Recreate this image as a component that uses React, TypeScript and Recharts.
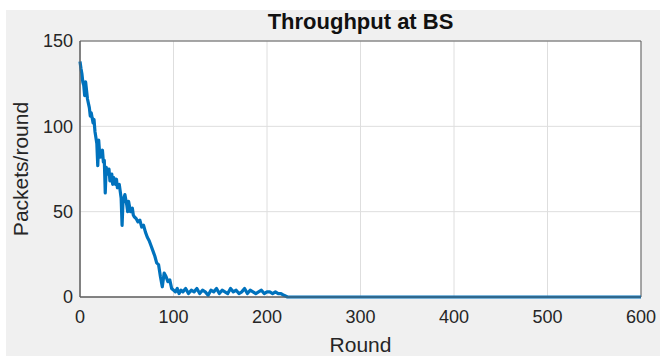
import { LineChart, Line, XAxis, YAxis, CartesianGrid, ReferenceArea } from "recharts";

// rounds sampled from the reference curve, with packets/round at each
const rounds = [
  0, 1, 2, 3, 4, 5, 6, 8, 10, 11, 12, 14, 15, 16, 18, 19, 20, 21, 22, 24, 25, 26, 27, 28, 30, 31, 32,
  34, 35, 36, 38, 39, 40, 42, 44, 45, 46, 48, 50, 51, 52, 54, 56, 57, 58, 60, 62, 64, 66, 68,
  70, 72, 74, 76, 78, 80, 82, 84, 86, 88, 90, 92, 94, 96, 98, 100, 102, 104, 106, 108, 110,
  113, 116, 119, 122, 125, 128, 131, 134, 137, 140, 143, 146, 149, 152, 155, 158, 161, 164,
  167, 170, 173, 176, 179, 182, 185, 188, 191, 194, 197, 200, 203, 206, 209, 212, 215, 218,
  222, 600,
];
const packets = [
  138, 134, 131, 126, 124, 118, 126, 116, 111, 106, 108, 102, 104, 97, 90, 77, 92, 84, 82, 86, 79, 80, 61, 76, 72, 75, 68,
  72, 66, 70, 66, 69, 64, 66, 58, 42, 56, 60, 54, 50, 56, 50, 52, 48, 47, 46, 44, 45, 41, 42,
  38, 35, 33, 30, 27, 24, 20, 19, 12, 6, 14, 12, 9, 10, 5, 4, 3, 5, 2, 4, 3,
  5, 2, 4, 3, 5, 2, 4, 3, 1, 4, 3, 5, 2, 4, 3, 2, 5, 3,
  4, 2, 3, 5, 2, 4, 3, 2, 3, 4, 2, 3, 3, 2, 3, 2, 2, 1,
  0, 0,
];
const xTicks = [0, 100, 200, 300, 400, 500, 600];
const yTicks = [0, 50, 100, 150];

const data = rounds.map((r, i) => ({ round: r, packets: packets[i] }));

const font = "'Liberation Sans', Arial, sans-serif";
const boxColor = "#5e5e5e";
const tickFont = { fill: "#262626", fontSize: 18, fontFamily: font };

export default function App() {
  return (
    <div style={{ position: "absolute", left: 0, top: 0, width: 660, height: 356, background: "#fff", overflow: "hidden" }}>
      <div style={{ position: "absolute", left: 6, top: 10, right: 0, bottom: 0, background: "#f0f0f0" }} />
      <div style={{
        position: "absolute", left: 80, top: 10, width: 561, lineHeight: "24px",
        textAlign: "center", fontFamily: font, fontWeight: 700, fontSize: 22, color: "#111",
      }}>
        Throughput at BS
      </div>
      <div style={{ position: "absolute", left: 0, top: 0 }}>
        <LineChart width={660} height={356} data={data} margin={{ top: 41, right: 19, bottom: 0, left: 0 }}>
          <CartesianGrid fill="#fff" stroke="#dedede" horizontalValues={yTicks} verticalValues={xTicks} />
          <XAxis
            dataKey="round" type="number" domain={[0, 600]} ticks={xTicks} height={59}
            tickLine={false} tickSize={8} tickMargin={5} axisLine={{ stroke: boxColor }} tick={tickFont}
            label={{ value: "Round", position: "insideBottom", offset: 4, fill: "#262626", fontSize: 21, fontFamily: font }}
          />
          <YAxis
            type="number" domain={[0, 150]} ticks={yTicks} width={80}
            tickLine={false} tickSize={4} tickMargin={3} axisLine={{ stroke: boxColor }} tick={tickFont}
            label={{
              value: "Packets/round", angle: -90, position: "insideLeft", offset: 21,
              fill: "#262626", fontSize: 21, fontFamily: font, style: { textAnchor: "middle" },
            }}
          />
          <ReferenceArea x1={0} x2={600} y1={0} y2={150} fill="none" stroke={boxColor} strokeWidth={1} />
          <Line
            dataKey="packets" type="linear" stroke="#0072bd" strokeWidth={3.2}
            dot={false} isAnimationActive={false} strokeLinejoin="round"
          />
        </LineChart>
      </div>
    </div>
  );
}
